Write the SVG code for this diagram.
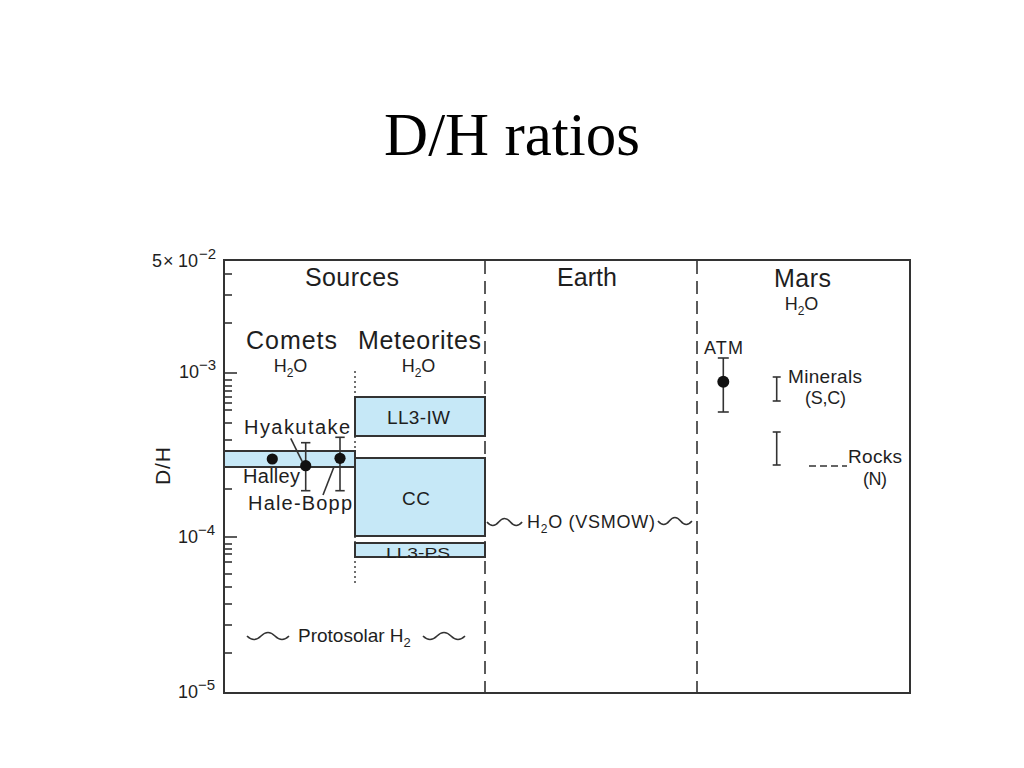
<svg xmlns="http://www.w3.org/2000/svg" width="1024" height="768" viewBox="0 0 1024 768">
<defs>
<style>
.t{font-family:"Liberation Sans",Arial,sans-serif;fill:#1e1e1e}
.ln{stroke:#333;stroke-width:1.6;fill:none}
.box{fill:#c6e8f7;stroke:#333;stroke-width:2}
.tick{stroke:#333;stroke-width:1.6}
.dash{stroke:#333;stroke-width:1.6;stroke-dasharray:13 7;fill:none}
.dot{fill:#111}
.wave{stroke:#333;stroke-width:1.6;fill:none}
</style>
</defs>
<rect width="1024" height="768" fill="#fff"/>
<text x="512" y="155" text-anchor="middle" font-family="Liberation Serif,Times New Roman,serif" font-size="61" fill="#000">D/H ratios</text>

<g id="axis">
<rect x="224" y="260" width="686" height="433" fill="none" stroke="#333" stroke-width="2"/>
<g class="tick">
<line x1="224" y1="373" x2="237" y2="373"/>
<line x1="224" y1="537" x2="237" y2="537"/>
<line x1="224" y1="274" x2="232" y2="274"/>
<line x1="224" y1="295" x2="232" y2="295"/>
<line x1="224" y1="323" x2="232" y2="323"/>
<line x1="224" y1="380" x2="232" y2="380"/>
<line x1="224" y1="386" x2="232" y2="386"/>
<line x1="224" y1="391" x2="232" y2="391"/>
<line x1="224" y1="397" x2="232" y2="397"/>
<line x1="224" y1="403" x2="232" y2="403"/>
<line x1="224" y1="410" x2="232" y2="410"/>
<line x1="224" y1="423" x2="232" y2="423"/>
<line x1="224" y1="440" x2="232" y2="440"/>
<line x1="224" y1="489" x2="232" y2="489"/>
<line x1="224" y1="544" x2="232" y2="544"/>
<line x1="224" y1="549" x2="232" y2="549"/>
<line x1="224" y1="554" x2="232" y2="554"/>
<line x1="224" y1="562" x2="232" y2="562"/>
<line x1="224" y1="574" x2="232" y2="574"/>
<line x1="224" y1="587" x2="232" y2="587"/>
<line x1="224" y1="604" x2="232" y2="604"/>
<line x1="224" y1="625" x2="232" y2="625"/>
<line x1="224" y1="653" x2="232" y2="653"/>
</g>
<text class="t" y="267" font-size="18"><tspan x="152">5</tspan><tspan x="163">×</tspan><tspan x="178">10</tspan><tspan x="199" font-size="15" dy="-8">−2</tspan></text>
<text class="t" y="378" font-size="18"><tspan x="179">10</tspan><tspan x="199" font-size="15" dy="-8">−3</tspan></text>
<text class="t" y="543" font-size="18"><tspan x="178">10</tspan><tspan x="198" font-size="15" dy="-8">−4</tspan></text>
<text class="t" y="698" font-size="18"><tspan x="178">10</tspan><tspan x="198" font-size="15" dy="-8">−5</tspan></text>
<text class="t" transform="translate(170,466) rotate(-90)" text-anchor="middle" font-size="21" textLength="38">D/H</text>
</g>

<g id="separators">
<line class="dash" x1="485" y1="261" x2="485" y2="693"/>
<line class="dash" x1="697" y1="261" x2="697" y2="693"/>
<line x1="355" y1="371" x2="355" y2="586" stroke="#333" stroke-width="1.4" stroke-dasharray="2 3"/>
</g>

<g id="headings">
<text class="t" x="352" y="286" text-anchor="middle" font-size="25" textLength="94">Sources</text>
<text class="t" x="587" y="286" text-anchor="middle" font-size="25" textLength="60">Earth</text>
<text class="t" x="802.5" y="287" text-anchor="middle" font-size="25" textLength="57">Mars</text>
<text class="t" x="801.5" y="310" text-anchor="middle" font-size="18">H<tspan font-size="12" dy="5">2</tspan><tspan dy="-5">O</tspan></text>
<text class="t" x="291.5" y="349" text-anchor="middle" font-size="25" textLength="91">Comets</text>
<text class="t" x="290.5" y="372" text-anchor="middle" font-size="18">H<tspan font-size="12" dy="5">2</tspan><tspan dy="-5">O</tspan></text>
<text class="t" x="419.5" y="349" text-anchor="middle" font-size="25" textLength="123">Meteorites</text>
<text class="t" x="418.5" y="372" text-anchor="middle" font-size="18">H<tspan font-size="12" dy="5">2</tspan><tspan dy="-5">O</tspan></text>
</g>

<g id="comets">
<rect class="box" x="224" y="451" width="131" height="16"/>
<line class="ln" x1="290.7" y1="438.3" x2="302.3" y2="461.7"/>
<line class="ln" x1="323" y1="495" x2="334" y2="466.7"/>
<g class="ln">
<line x1="305.7" y1="442.7" x2="305.7" y2="490.7"/>
<line x1="301" y1="442.7" x2="310.4" y2="442.7"/>
<line x1="301" y1="490.7" x2="310.4" y2="490.7"/>
<line x1="340" y1="437.3" x2="340" y2="490.7"/>
<line x1="335.3" y1="437.3" x2="344.7" y2="437.3"/>
<line x1="335.3" y1="490.7" x2="344.7" y2="490.7"/>
</g>
<circle class="dot" cx="272.3" cy="459" r="5.6"/>
<circle class="dot" cx="305.7" cy="465.7" r="5.6"/>
<circle class="dot" cx="340" cy="458.3" r="5.6"/>
<text class="t" x="244" y="434" font-size="20" textLength="106">Hyakutake</text>
<text class="t" x="243" y="483" font-size="20" textLength="57">Halley</text>
<text class="t" x="248" y="510" font-size="20" textLength="104">Hale-Bopp</text>
</g>

<g id="meteorites">
<rect class="box" x="355" y="397" width="130" height="39"/>
<text class="t" x="418.5" y="424" text-anchor="middle" font-size="19" textLength="63">LL3-IW</text>
<rect class="box" x="355" y="458" width="130" height="78"/>
<text class="t" x="416" y="505" text-anchor="middle" font-size="19" textLength="28">CC</text>
<rect class="box" x="355" y="543" width="130" height="14"/>
<text class="t" x="418" y="557.5" text-anchor="middle" font-size="15.5" textLength="64" lengthAdjust="spacingAndGlyphs">LL3-PS</text>
</g>

<g id="earth">
<path class="wave" d="M487,522 q5.8,7 11.7,0 t11.7,0 t11.7,0"/>
<text class="t" x="527" y="528" font-size="18" textLength="128">H<tspan font-size="12" dy="5">2</tspan><tspan dy="-5">O (VSMOW)</tspan></text>
<path class="wave" d="M658,521 q5.7,7 11.3,0 t11.3,0 t11.3,0"/>
</g>

<g id="protosolar">
<path class="wave" d="M247,636 q7,7 14,0 t14,0 t14,0"/>
<text class="t" x="298" y="642" font-size="19">Protosolar H<tspan font-size="13" dy="5">2</tspan></text>
<path class="wave" d="M423,636 q7,7 14,0 t14,0 t14,0"/>
</g>

<g id="mars">
<text class="t" x="723.5" y="354" text-anchor="middle" font-size="18" textLength="39">ATM</text>
<g class="ln">
<line x1="723.3" y1="358" x2="723.3" y2="412"/>
<line x1="717.8" y1="358" x2="728.8" y2="358"/>
<line x1="717.8" y1="412" x2="728.8" y2="412"/>
<line x1="776.7" y1="377" x2="776.7" y2="401"/>
<line x1="772.7" y1="377" x2="780.7" y2="377"/>
<line x1="772.7" y1="401" x2="780.7" y2="401"/>
<line x1="776.7" y1="432" x2="776.7" y2="465"/>
<line x1="772.7" y1="432" x2="780.7" y2="432"/>
<line x1="772.7" y1="465" x2="780.7" y2="465"/>
<line x1="809" y1="466" x2="847" y2="466" stroke-dasharray="7 4"/>
</g>
<circle class="dot" cx="723.3" cy="381.7" r="6"/>
<text class="t" x="788" y="383" font-size="19" textLength="74">Minerals</text>
<text class="t" x="825.5" y="404" text-anchor="middle" font-size="18" textLength="41">(S,C)</text>
<text class="t" x="848" y="463" font-size="19" textLength="54">Rocks</text>
<text class="t" x="875" y="485" text-anchor="middle" font-size="18" textLength="24">(N)</text>
</g>
</svg>
